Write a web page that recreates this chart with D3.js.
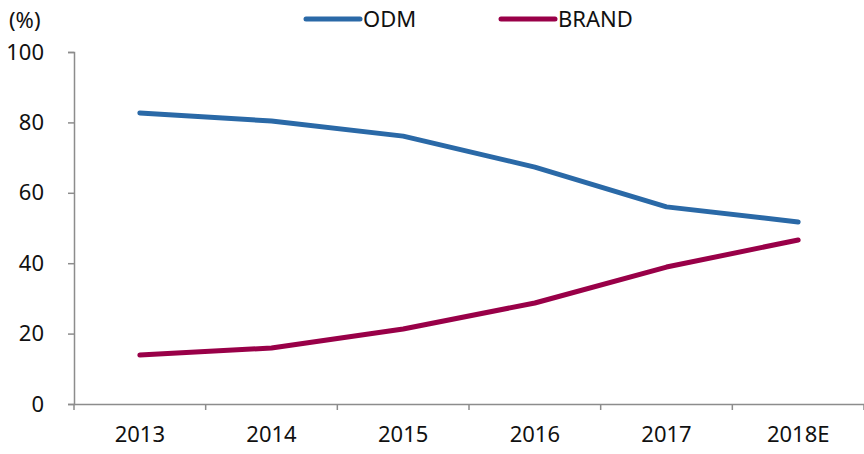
<!DOCTYPE html>
<html>
<head>
<meta charset="utf-8">
<script src="https://cdn.jsdelivr.net/npm/d3@7"></script>
<style>
  body { margin: 0; background: #fff; }
  text { font-family: "Noto Sans", sans-serif; fill: #111; }
</style>
</head>
<body>
<div id="chart"></div>
<script>
const years = ["2013", "2014", "2015", "2016", "2017", "2018E"];
const odm = [82.7, 80.4, 76.1, 67.3, 56.0, 51.7];
const brand = [13.9, 15.9, 21.3, 28.7, 38.9, 46.6];
const yTicks = [0, 20, 40, 60, 80, 100];

const width = 864, height = 454;
const margin = {top: 52, right: 0, bottom: 50, left: 74};

const svg = d3.select("#chart")
  .append("svg")
  .attr("width", width)
  .attr("height", height);

const x = d3.scaleBand()
  .domain(years)
  .range([margin.left, width - margin.right]);

const y = d3.scaleLinear()
  .domain([0, 100])
  .range([height - margin.bottom, margin.top]);

// y axis
const yAxis = svg.append("g")
  .attr("transform", `translate(${margin.left},0)`)
  .call(d3.axisLeft(y).tickValues(yTicks).tickSize(6).tickPadding(24));
yAxis.selectAll("text").attr("font-size", 22).attr("font-family", "Noto Sans");
yAxis.selectAll("line, path").attr("stroke", "#8c8c8c").attr("stroke-width", 1.5);

// x axis, ticks at band edges
const xAxis = svg.append("g")
  .attr("transform", `translate(0,${y(0)})`)
  .call(d3.axisBottom(x).tickSize(0).tickPadding(22));
xAxis.selectAll("text").attr("font-size", 22).attr("font-family", "Noto Sans");
xAxis.select("path").attr("stroke", "#8c8c8c").attr("stroke-width", 1.5);
const edges = years.map(d => x(d)).concat([x.range()[1]]);
xAxis.selectAll(".edge")
  .data(edges)
  .join("line")
  .attr("x1", d => d).attr("x2", d => d)
  .attr("y1", 0).attr("y2", 6)
  .attr("stroke", "#8c8c8c").attr("stroke-width", 1.5);

svg.append("text")
  .attr("x", 9).attr("y", 28)
  .attr("font-size", 22)
  .text("(%)");

const line = d3.line()
  .x((d, i) => x(years[i]) + x.bandwidth() / 2)
  .y(d => y(d));

const series = [
  {name: "ODM", values: odm, color: "#2a69a7"},
  {name: "BRAND", values: brand, color: "#990048"}
];

svg.append("g")
  .selectAll("path")
  .data(series)
  .join("path")
  .attr("d", d => line(d.values))
  .attr("fill", "none")
  .attr("stroke", d => d.color)
  .attr("stroke-width", 5)
  .attr("stroke-linecap", "round")
  .attr("stroke-linejoin", "round");

// legend
const legendX = [306, 501];
const lg = svg.append("g")
  .selectAll("g")
  .data(series)
  .join("g")
  .attr("transform", (d, i) => `translate(${legendX[i]},19)`);
lg.append("line")
  .attr("x1", 0).attr("x2", 54)
  .attr("stroke", d => d.color)
  .attr("stroke-width", 5)
  .attr("stroke-linecap", "round");
lg.append("text")
  .attr("x", 57).attr("y", 8)
  .attr("font-size", 22)
  .text(d => d.name);
</script>
</body>
</html>
